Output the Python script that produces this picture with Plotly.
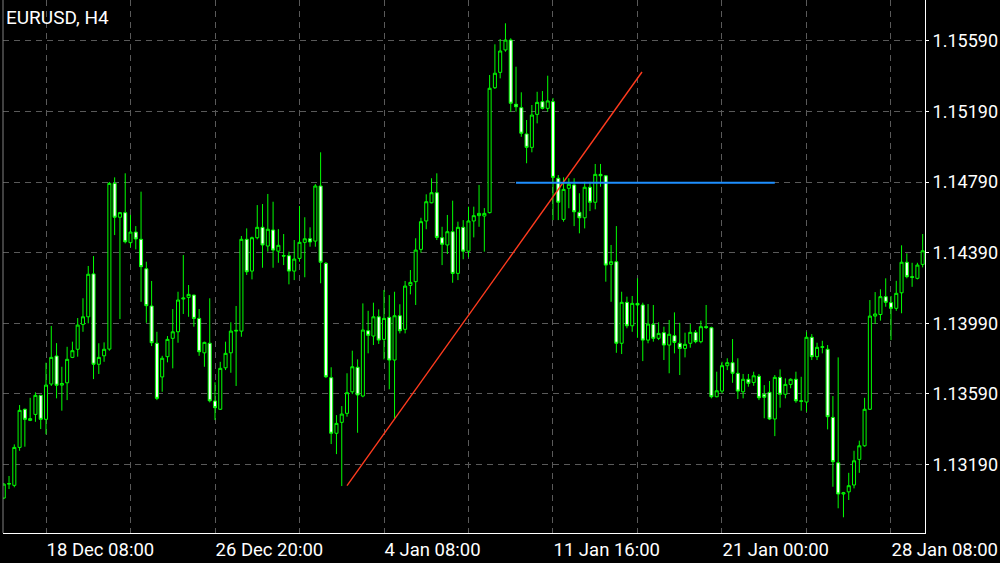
import plotly.graph_objects as go

# EURUSD H4 candles, bar index 0..174
opens = [1.13000, 1.13079, 1.13072, 1.13287, 1.13503, 1.13440, 1.13474, 1.13582, 1.13446, 1.13646,
         1.13805, 1.13640, 1.13653, 1.13797, 1.13843, 1.13984, 1.14027, 1.14270, 1.13758, 1.13806,
         1.13844, 1.14783, 1.14591, 1.14617, 1.14447, 1.14507, 1.14466, 1.14299, 1.14088, 1.13877,
         1.13686, 1.13801, 1.13905, 1.13942, 1.14128, 1.14137, 1.14150, 1.14018, 1.13823, 1.13877,
         1.13550, 1.13503, 1.13738, 1.13823, 1.13946, 1.13946, 1.14466, 1.14286, 1.14475, 1.14534,
         1.14428, 1.14519, 1.14399, 1.14374, 1.14373, 1.14286, 1.14358, 1.14449, 1.14469, 1.14456,
         1.14768, 1.14330, 1.13682, 1.13367, 1.13429, 1.13480, 1.13602, 1.13741, 1.13578, 1.13948,
         1.13918, 1.14027, 1.13899, 1.14024, 1.13782, 1.14033, 1.13956, 1.14205, 1.14226, 1.14409,
         1.14570, 1.14673, 1.14730, 1.14475, 1.14434, 1.14509, 1.14273, 1.14534, 1.14399, 1.14570,
         1.14600, 1.14598, 1.14617, 1.15325, 1.15412, 1.15539, 1.15595, 1.15231, 1.15212, 1.15063,
         1.14987, 1.15174, 1.15246, 1.15208, 1.15246, 1.14812, 1.14579, 1.14755, 1.14774, 1.14619,
         1.14588, 1.14761, 1.14676, 1.14834, 1.14826, 1.14324, 1.14339, 1.13877, 1.14109, 1.13976,
         1.14103, 1.14094, 1.13895, 1.13984, 1.13905, 1.13937, 1.13867, 1.13920, 1.13877, 1.13848,
         1.13877, 1.13939, 1.13886, 1.13971, 1.13965, 1.13574, 1.13606, 1.13750, 1.13767, 1.13707,
         1.13602, 1.13673, 1.13655, 1.13690, 1.13588, 1.13599, 1.13448, 1.13684, 1.13588, 1.13644,
         1.13673, 1.13551, 1.13544, 1.13911, 1.13801, 1.13854, 1.13843, 1.13457, 1.13200, 1.13023,
         1.13035, 1.13074, 1.13219, 1.13296, 1.13503, 1.14031, 1.14040, 1.14141, 1.14107, 1.14075,
         1.14163, 1.14336, 1.14254, 1.14245, 1.14324]
highs = [1.13085, 1.13125, 1.13304, 1.13527, 1.13507, 1.13568, 1.13599, 1.13584, 1.13767, 1.13975,
         1.13878, 1.13744, 1.13857, 1.13886, 1.14020, 1.14132, 1.14315, 1.14371, 1.13877, 1.13882,
         1.14791, 1.14817, 1.14621, 1.14840, 1.14604, 1.14541, 1.14736, 1.14339, 1.14230, 1.13942,
         1.13806, 1.13918, 1.14071, 1.14169, 1.14377, 1.14207, 1.14152, 1.14071, 1.13886, 1.14132,
         1.13656, 1.13772, 1.13886, 1.13996, 1.14088, 1.14485, 1.14528, 1.14481, 1.14660, 1.14666,
         1.14723, 1.14679, 1.14524, 1.14496, 1.14396, 1.14462, 1.14655, 1.14591, 1.14534, 1.14779,
         1.14959, 1.14337, 1.13741, 1.13470, 1.13521, 1.13707, 1.13835, 1.13786, 1.14103, 1.14061,
         1.14107, 1.14069, 1.14179, 1.14150, 1.14169, 1.14098, 1.14230, 1.14292, 1.14472, 1.14588,
         1.14721, 1.14812, 1.14840, 1.14537, 1.14604, 1.14685, 1.14566, 1.14575, 1.14651, 1.14651,
         1.14774, 1.14643, 1.15397, 1.15571, 1.15601, 1.15690, 1.15605, 1.15444, 1.15299, 1.15142,
         1.15227, 1.15302, 1.15306, 1.15393, 1.15267, 1.14830, 1.14817, 1.14812, 1.14812, 1.14727,
         1.14792, 1.14792, 1.14893, 1.14893, 1.14830, 1.14434, 1.14541, 1.14169, 1.14141, 1.14145,
         1.14245, 1.14107, 1.14099, 1.14094, 1.13996, 1.13971, 1.14009, 1.14052, 1.13993, 1.13937,
         1.13986, 1.13952, 1.14005, 1.14094, 1.13971, 1.13716, 1.13772, 1.13792, 1.13901, 1.13792,
         1.13703, 1.13703, 1.13716, 1.13703, 1.13640, 1.13663, 1.13697, 1.13729, 1.13678, 1.13678,
         1.13716, 1.13687, 1.13942, 1.13929, 1.13880, 1.13891, 1.13867, 1.13578, 1.13797, 1.13035,
         1.13143, 1.13268, 1.13325, 1.13568, 1.14122, 1.14167, 1.14183, 1.14245, 1.14145, 1.14231,
         1.14432, 1.14387, 1.14333, 1.14333, 1.14496]
lows = [1.12994, 1.13051, 1.13061, 1.13268, 1.13291, 1.13436, 1.13432, 1.13391, 1.13361, 1.13635,
        1.13565, 1.13495, 1.13555, 1.13793, 1.13801, 1.13942, 1.13990, 1.13674, 1.13703, 1.13772,
        1.13835, 1.14490, 1.14014, 1.14443, 1.14421, 1.14409, 1.14112, 1.13993, 1.13861, 1.13555,
        1.13602, 1.13769, 1.13735, 1.13880, 1.14043, 1.14027, 1.13971, 1.13806, 1.13744, 1.13542,
        1.13442, 1.13499, 1.13725, 1.13710, 1.13635, 1.13914, 1.14264, 1.14239, 1.14466, 1.14305,
        1.14396, 1.14305, 1.14333, 1.14320, 1.14211, 1.14235, 1.14339, 1.14251, 1.14424, 1.14424,
        1.14217, 1.13680, 1.13306, 1.13249, 1.13068, 1.13461, 1.13589, 1.13370, 1.13571, 1.13820,
        1.13867, 1.13873, 1.13786, 1.13616, 1.13452, 1.13933, 1.13933, 1.14154, 1.14094, 1.14390,
        1.14523, 1.14670, 1.14462, 1.14320, 1.14383, 1.14220, 1.14235, 1.14353, 1.14364, 1.14477,
        1.14537, 1.14396, 1.14613, 1.15318, 1.15378, 1.15529, 1.15189, 1.15189, 1.15047, 1.14897,
        1.14959, 1.15123, 1.15202, 1.15189, 1.14575, 1.14575, 1.14566, 1.14642, 1.14541, 1.14500,
        1.14528, 1.14626, 1.14636, 1.14764, 1.14226, 1.14112, 1.13823, 1.13816, 1.13962, 1.13942,
        1.13908, 1.13776, 1.13877, 1.13886, 1.13895, 1.13782, 1.13707, 1.13820, 1.13697, 1.13797,
        1.13852, 1.13877, 1.13877, 1.13958, 1.13565, 1.13571, 1.13593, 1.13725, 1.13653, 1.13561,
        1.13565, 1.13631, 1.13636, 1.13555, 1.13452, 1.13442, 1.13351, 1.13512, 1.13565, 1.13622,
        1.13540, 1.13495, 1.13489, 1.13782, 1.13782, 1.13820, 1.13389, 1.13064, 1.12942, 1.12891,
        1.12989, 1.13055, 1.13143, 1.13291, 1.13499, 1.13986, 1.14005, 1.14084, 1.13895, 1.14061,
        1.14047, 1.14245, 1.14197, 1.14239, 1.14307]
closes = [1.13079, 1.13082, 1.13287, 1.13497, 1.13446, 1.13450, 1.13582, 1.13446, 1.13640, 1.13797,
          1.13639, 1.13649, 1.13786, 1.13835, 1.13980, 1.14027, 1.14268, 1.13758, 1.13797, 1.13843,
          1.14783, 1.14591, 1.14617, 1.14452, 1.14507, 1.14468, 1.14311, 1.14090, 1.13880, 1.13565,
          1.13792, 1.13899, 1.13942, 1.14122, 1.14133, 1.14154, 1.14018, 1.13829, 1.13882, 1.13551,
          1.13512, 1.13735, 1.13820, 1.13946, 1.13950, 1.14466, 1.14282, 1.14475, 1.14534, 1.14434,
          1.14523, 1.14405, 1.14432, 1.14371, 1.14286, 1.14354, 1.14449, 1.14469, 1.14451, 1.14768,
          1.14336, 1.13687, 1.13367, 1.13423, 1.13476, 1.13597, 1.13744, 1.13584, 1.13952, 1.13922,
          1.14027, 1.13895, 1.14018, 1.13782, 1.14033, 1.13948, 1.14201, 1.14222, 1.14405, 1.14566,
          1.14679, 1.14730, 1.14477, 1.14438, 1.14509, 1.14273, 1.14534, 1.14399, 1.14570, 1.14600,
          1.14613, 1.14613, 1.15322, 1.15407, 1.15533, 1.15595, 1.15237, 1.15217, 1.15067, 1.14987,
          1.15170, 1.15242, 1.15208, 1.15250, 1.14817, 1.14676, 1.14749, 1.14778, 1.14622, 1.14588,
          1.14761, 1.14676, 1.14834, 1.14826, 1.14320, 1.14339, 1.13877, 1.14109, 1.13976, 1.14103,
          1.14094, 1.13895, 1.13986, 1.13905, 1.13933, 1.13867, 1.13928, 1.13882, 1.13848, 1.13871,
          1.13939, 1.13886, 1.13971, 1.13967, 1.13574, 1.13608, 1.13750, 1.13767, 1.13707, 1.13606,
          1.13673, 1.13650, 1.13693, 1.13568, 1.13571, 1.13448, 1.13684, 1.13588, 1.13644, 1.13673,
          1.13551, 1.13548, 1.13911, 1.13801, 1.13854, 1.13857, 1.13461, 1.13206, 1.13023, 1.13030,
          1.13070, 1.13211, 1.13296, 1.13503, 1.14031, 1.14043, 1.14141, 1.14109, 1.14075, 1.14160,
          1.14336, 1.14254, 1.14251, 1.14320, 1.14401]
bar_index = list(range(len(opens)))

# time-axis labels (bar index of each grid line)
x_tick_index = [8, 24, 40, 56, 72, 88, 104, 120, 136, 152, 168]
x_tick_text = ["18 Dec 08:00", "", "26 Dec 20:00", "", "4 Jan 08:00", "",
               "11 Jan 16:00", "", "21 Jan 00:00", "", "28 Jan 08:00"]
y_tick_values = [1.13190, 1.13590, 1.13990, 1.14390, 1.14790, 1.15190, 1.15590]
y_tick_text = ["1.13190", "1.13590", "1.13990", "1.14390", "1.14790", "1.15190", "1.15590"]

# drawing objects
trend_x = [65.0, 120.85]
trend_y = [1.13070, 1.15414]
level_x = [97.0, 146.0]
level_y = [1.14787, 1.14787]

GREEN = "#00FF00"
FONT = "Roboto"

fig = go.Figure()
fig.add_trace(go.Candlestick(
    x=bar_index, open=opens, high=highs, low=lows, close=closes,
    increasing=dict(line=dict(color=GREEN, width=1), fillcolor="#000000"),
    decreasing=dict(line=dict(color=GREEN, width=1), fillcolor="#FFFFFF"),
    whiskerwidth=0, showlegend=False, hoverinfo="skip",
))
fig.add_trace(go.Scatter(x=trend_x, y=trend_y, mode="lines",
                         line=dict(color="#FF3B1E", width=1.4), showlegend=False, hoverinfo="skip"))
fig.add_trace(go.Scatter(x=level_x, y=level_y, mode="lines",
                         line=dict(color="#1E8FFF", width=2), showlegend=False, hoverinfo="skip"))

fig.update_layout(
    width=1000, height=563,
    margin=dict(l=3, r=75, t=0, b=30),
    paper_bgcolor="#000000", plot_bgcolor="#000000",
    font=dict(family=FONT, color="#FFFFFF", size=18),
    boxgap=0.18,
    xaxis=dict(
        range=[-0.142, 174.44], rangeslider=dict(visible=False),
        tickmode="array", tickvals=x_tick_index, ticktext=x_tick_text,
        ticklabelposition="outside right", ticklabeloverflow="allow", ticks="",
        showgrid=True, gridcolor="#5A5A5A", griddash="6px,5px", gridwidth=1,
        showline=True, linecolor="#FFFFFF", linewidth=1,
        zeroline=False, tickfont=dict(size=18.5, color="#FFFFFF"),
    ),
    yaxis=dict(
        range=[1.12802, 1.15822], side="right",
        tickmode="array", tickvals=y_tick_values, ticktext=y_tick_text,
        ticks="outside", ticklen=3, tickcolor="#FFFFFF",
        showgrid=True, gridcolor="#5A5A5A", griddash="6px,5px", gridwidth=1,
        showline=True, linecolor="#FFFFFF", linewidth=1,
        zeroline=False, tickfont=dict(size=18, color="#FFFFFF"),
    ),
    annotations=[dict(text="EURUSD, H4", xref="paper", yref="paper", x=0.001, y=0.968,
                      xanchor="left", yanchor="middle", showarrow=False,
                      font=dict(family=FONT, size=19, color="#FFFFFF"))],
    shapes=[dict(type="line", xref="paper", yref="paper", x0=0, x1=0, y0=0, y1=1,
                 line=dict(color="#808080", width=1))],
)

fig.write_html("out.html", config={"displayModeBar": False},
               post_script="document.body.style.margin='0';document.body.style.overflow='hidden';")
